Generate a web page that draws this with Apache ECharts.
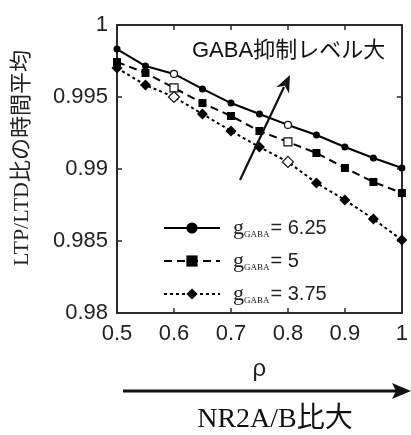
<!DOCTYPE html>
<html><head><meta charset="utf-8">
<script src="https://cdn.jsdelivr.net/npm/echarts@6/dist/echarts.min.js"></script>
<style>html,body{margin:0;padding:0;background:#fff}#c{width:411px;height:435px}</style>
</head><body><div id="c"></div>
<script>
const rho = [0.5, 0.55, 0.6, 0.65, 0.7, 0.75, 0.8, 0.85, 0.9, 0.95, 1.0];
const gLabels = ['6.25', '5', '3.75'];
const g625 = [0.99833, 0.99715, 0.99660, 0.99556, 0.99458, 0.99382, 0.99306, 0.99236, 0.99153, 0.99076, 0.99007];
const g5   = [0.99743, 0.99667, 0.99563, 0.99458, 0.99368, 0.99264, 0.99188, 0.99111, 0.99007, 0.98910, 0.98833];
const g375 = [0.99701, 0.99583, 0.99500, 0.99382, 0.99264, 0.99153, 0.99049, 0.98903, 0.98785, 0.98653, 0.98507];
const openIdx = [2, 6];
const xTicks = [0.5, 0.6, 0.7, 0.8, 0.9, 1];
const yTicks = [0.98, 0.985, 0.99, 0.995, 1];
const yName = 'LTP/LTD比の時間平均';
const annotTop = 'GABA抑制レベル大';
const annotBottom = 'NR2A/B比大';
const xName = 'ρ';

const chart = echarts.init(document.getElementById('c'), null, {renderer: 'canvas'});
const axisColor = '#2a2a2a';
const sans = '"Liberation Sans", Arial, "Noto Sans CJK JP", sans-serif';
const serif = '"Liberation Serif", "Times New Roman", "Noto Sans CJK JP", serif';

function mk(vals) {
  return rho.map((x, i) => {
    const d = {value: [x, vals[i]]};
    if (openIdx.includes(i)) d.itemStyle = {color: '#fff', borderColor: '#111', borderWidth: 1.2};
    return d;
  });
}
const styles = [
  {symbol: 'circle', size: 7, type: 'solid'},
  {symbol: 'rect', size: 8, type: [8, 5]},
  {symbol: 'diamond', size: 11, type: [3, 3]}
];
const vals = [g625, g5, g375];
const series = vals.map((v, k) => ({
  name: gLabels[k],
  type: 'line',
  data: mk(v),
  symbol: styles[k].symbol,
  symbolSize: styles[k].size,
  showAllSymbol: true,
  lineStyle: {color: '#000', width: 2, type: styles[k].type},
  itemStyle: {color: '#000'},
  z: 3 + k
}));

const yAxisBase = {
  type: 'value', min: 0.98, max: 1, interval: 0.005,
  axisLine: {show: true, lineStyle: {color: axisColor, width: 2}},
  axisTick: {show: true, inside: true, length: 5, lineStyle: {color: axisColor, width: 1.5}},
  splitLine: {show: false}
};
const xAxisBase = {
  type: 'value', min: 0.5, max: 1, interval: 0.1,
  axisLine: {show: true, onZero: false, lineStyle: {color: axisColor, width: 2}},
  axisTick: {show: true, inside: true, length: 5, lineStyle: {color: axisColor, width: 1.5}},
  splitLine: {show: false}
};

const option = {
  animation: false,
  backgroundColor: '#fff',
  grid: {left: 117, right: 6, top: 25, bottom: 122},
  xAxis: [
    Object.assign({}, xAxisBase, {
      position: 'bottom',
      axisLabel: {color: '#222', fontSize: 22, fontFamily: sans, margin: 10,
        formatter: v => xTicks.includes(+v.toFixed(3)) ? String(+v.toFixed(3)) : ''},
      name: xName, nameLocation: 'middle', nameGap: 44,
      nameTextStyle: {color: '#222', fontSize: 24, fontFamily: sans}
    }),
    Object.assign({}, xAxisBase, {position: 'top', axisLabel: {show: false}})
  ],
  yAxis: [
    Object.assign({}, yAxisBase, {
      position: 'left',
      axisLabel: {color: '#222', fontSize: 22, fontFamily: sans, margin: 9,
        formatter: v => yTicks.includes(+v.toFixed(3)) ? String(+v.toFixed(3)) : ''},
      name: yName, nameLocation: 'middle', nameRotate: 90, nameGap: 84,
      nameTextStyle: {color: '#222', fontSize: 22, fontFamily: serif, padding: [0, 0, 0, 22]}
    }),
    Object.assign({}, yAxisBase, {position: 'right', axisLabel: {show: false}})
  ],
  legend: {
    orient: 'vertical', left: 158, top: 212, itemGap: 11,
    itemWidth: 56, itemHeight: 14,
    data: gLabels,
    formatter: n => '{g|g}{s|GABA}{e|= ' + n + '}',
    textStyle: {
      color: '#222', padding: [0, 0, 0, 8],
      rich: {
        g: {fontFamily: serif, fontSize: 22, color: '#222'},
        s: {fontFamily: serif, fontSize: 9, color: '#222', verticalAlign: 'bottom', padding: [10, 1, 0, 0]},
        e: {fontFamily: sans, fontSize: 20, color: '#222'}
      }
    }
  },
  series: series,
  graphic: [
    {type: 'text', left: 192, top: 40, z: 10,
      style: {text: annotTop, fill: '#111', font: '22px ' + sans}},
    {type: 'line', z: 10, shape: {x1: 240, y1: 180, x2: 284, y2: 87},
      style: {stroke: '#111', lineWidth: 2.2}},
    {type: 'polygon', z: 10,
      shape: {points: [[290, 75], [289.0, 93.4], [284.8, 85.8], [276.4, 87.3]]},
      style: {fill: '#111'}},
    {type: 'line', z: 10, shape: {x1: 123, y1: 391, x2: 398, y2: 391},
      style: {stroke: '#111', lineWidth: 3}},
    {type: 'polygon', z: 10,
      shape: {points: [[411, 391], [392, 383], [396, 391], [392, 399]]},
      style: {fill: '#111'}},
    {type: 'text', x: 275, y: 420, z: 10,
      style: {text: annotBottom, fill: '#111', font: '28px ' + serif, align: 'center', verticalAlign: 'middle'}}
  ]
};
chart.setOption(option);
</script>
</body></html>
